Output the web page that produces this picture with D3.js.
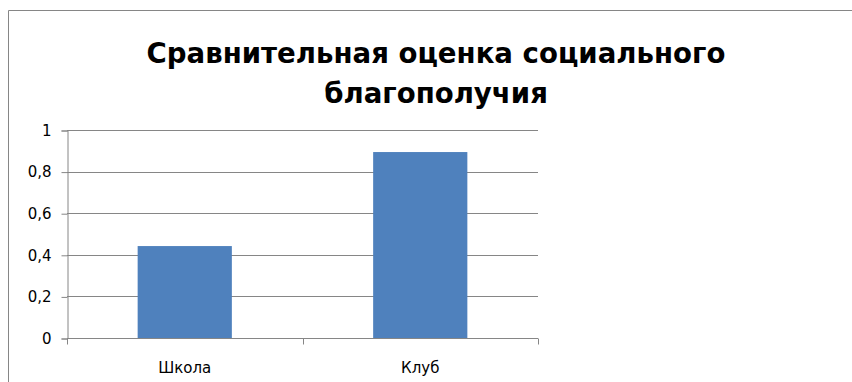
<!DOCTYPE html>
<html><head><meta charset="utf-8">
<script src="https://cdn.jsdelivr.net/npm/d3@7"></script>
<style>body{margin:0;background:#fff}svg{display:block}</style>
</head><body>
<svg id="c" width="852" height="382"></svg>
<script>
const titleLines = ["Сравнительная оценка социального", "благополучия"];
const categories = ["Школа", "Клуб"];
const values = [0.442, 0.894];
const yTicks = [0, 0.2, 0.4, 0.6, 0.8, 1];
const yTickLabels = ["0", "0,2", "0,4", "0,6", "0,8", "1"];

const svg = d3.select("#c");
const W = 852, H = 382;
const m = {left: 67, right: 538, top: 130, bottom: 338};
const font = "'DejaVu Sans', sans-serif";
const labelSize = 15;

// outer border
svg.append("path").attr("d", `M8.5,${H+5} V10.5 H${W+5}`)
  .attr("fill", "none").attr("stroke", "#868686").attr("stroke-width", 1);

// title (font size fitted to reference line width)
const t = svg.append("text").attr("x", 436).attr("text-anchor", "middle")
  .attr("font-family", font).attr("font-weight", "bold").attr("font-size", 25).attr("fill", "#000");
const spans = titleLines.map((l, i) => t.append("tspan").attr("x", 436).attr("y", 63 + i * 40).text(l));
const w0 = spans[0].node().getComputedTextLength();
t.attr("font-size", 25 * 579 / w0);

const x = d3.scaleBand().domain(categories).range([m.left, m.right]).paddingInner(0.6).paddingOuter(0.3);
const y = d3.scaleLinear().domain([0, 1]).range([m.bottom, m.top]);

// gridlines
svg.append("g").selectAll("line").data(yTicks.slice(1)).join("line")
  .attr("x1", m.left).attr("x2", m.right)
  .attr("y1", d => Math.round(y(d)) + 0.5).attr("y2", d => Math.round(y(d)) + 0.5)
  .attr("stroke", "#868686").attr("stroke-width", 1);

// bars
svg.append("g").selectAll("rect").data(values).join("rect")
  .attr("x", (d, i) => x(categories[i])).attr("width", x.bandwidth())
  .attr("y", d => y(d)).attr("height", d => y(0) - y(d))
  .attr("fill", "#4F81BD");

// y axis
const yAxis = d3.axisLeft(y).tickValues(yTicks).tickSize(6).tickPadding(10)
  .tickFormat((d, i) => yTickLabels[i]);
const gy = svg.append("g").attr("transform", `translate(${m.left + 0.5},0.5)`).call(yAxis);
gy.select(".domain").attr("stroke", "#868686");
gy.selectAll(".tick line").attr("stroke", "#868686");
gy.selectAll(".tick text").attr("font-family", font).attr("font-size", labelSize).attr("fill", "#000");

// x axis
const gx = svg.append("g").attr("transform", `translate(0,${m.bottom + 0.5})`);
gx.append("line").attr("x1", m.left).attr("x2", m.right).attr("stroke", "#868686");
const xb = d3.scaleLinear().domain([0, categories.length]).range([m.left, m.right]);
gx.selectAll("line.tk").data(d3.range(categories.length + 1)).join("line").attr("class", "tk")
  .attr("x1", d => Math.round(xb(d)) + 0.5).attr("x2", d => Math.round(xb(d)) + 0.5)
  .attr("y1", 0).attr("y2", 6).attr("stroke", "#868686");
gx.selectAll("text").data(categories).join("text")
  .attr("x", d => x(d) + x.bandwidth() / 2).attr("y", 34.5)
  .attr("text-anchor", "middle").attr("font-family", font).attr("font-size", labelSize).attr("fill", "#000")
  .text(d => d);
</script>
</body></html>
